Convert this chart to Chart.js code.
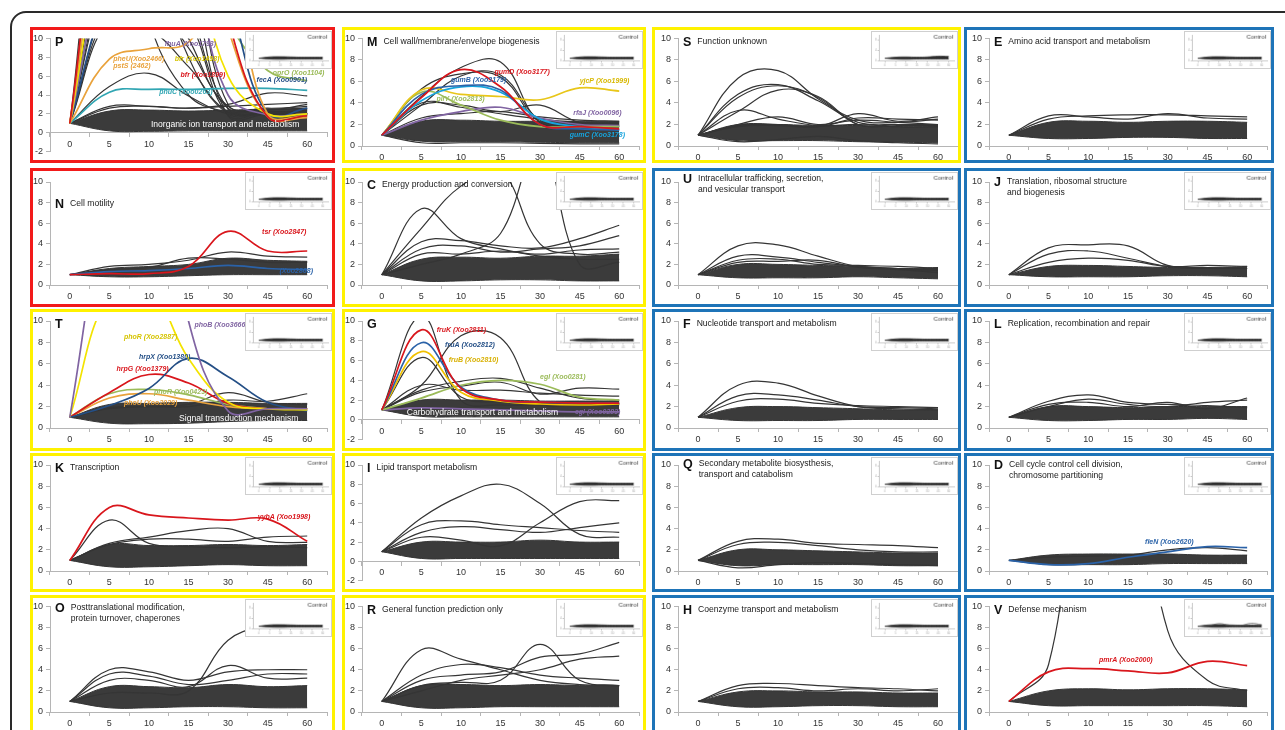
<!DOCTYPE html>
<html><head><meta charset="utf-8">
<script src="https://cdn.jsdelivr.net/npm/chart.js@4.4.1/dist/chart.umd.min.js"></script>
<style>
html,body{margin:0;padding:0;background:#fff;width:1285px;height:730px;overflow:hidden;position:relative;}
.frame{position:absolute;left:10px;top:11px;width:1300px;height:760px;border:2px solid #2a2a2a;border-radius:16px;box-sizing:border-box;}
.panel{position:absolute;border:3px solid;box-sizing:border-box;background:#fff;}
.panel canvas.main{position:absolute;left:0;top:0;}
.panel canvas.inset{position:absolute;right:0;top:1px;border:1px solid #cfcfcf;box-sizing:border-box;background:#fff;}
</style></head>
<body>
<div class="frame"></div>
<script>
const TIMES = ['0','5','10','15','30','45','60'];

// ---------- Control insets ----------
const CTRL_lo = [1.0, 0.7, 0.6, 0.7, 0.7, 0.7, 0.7];
const CTRL_hi = [1.0, 1.5, 1.6, 1.5, 1.4, 1.4, 1.4];
const CTRL_S_hi = [1.0, 1.4, 1.5, 1.4, 1.5, 1.8, 1.7];
const CTRL_V_extra = [1.0, 1.2, 2.0, 1.4, 1.3, 2.1, 1.6];

// ---------- P ----------
const P_lo = [1, 0.2, 0.15, 0.2, 0.2, 0.2, 0.2];
const P_hi = [1, 2.3, 2.4, 2.3, 2.4, 2.5, 2.5];
const P_gray = [
 [1, 33, 12, 4, 2.2, 2.0, 2.0],
 [1, 28, 20, 8, 2.0, 2.2, 2.0],
 [1, 24, 25, 14, 2.5, 2.2, 2.4],
 [1, 20, 22, 16, 1.8, 2.0, 2.0],
 [1, 18, 24, 19, 3.0, 2.6, 2.8],
 [1, 16, 18, 10, 2.6, 2.5, 2.6],
 [1, 14, 16, 12, 1.9, 2.2, 2.2],
 [1, 13, 14, 9, 2.8, 2.4, 3.0],
 [1, 12, 11, 7, 2.2, 2.0, 2.0],
 [1, 4.9, 6.3, 3.9, 2.0, 2.0, 2.0],
 [1, 2.8, 2.8, 2.6, 3.0, 4.2, 3.9],
 [1, 2.6, 2.8, 2.6, 2.8, 3.0, 3.2]
];
const P_bfr2 = [1, 30, 36, 30, 12, 1.7, 1.8];
const P_pstS = [1, 26, 32, 26, 11, 1.7, 1.6];
const P_pheU = [1, 7.8, 8.9, 9.6, 16, 2.0, 1.8];
const P_bfr1 = [1, 22, 26, 20, 6, 2.0, 2.0];
const P_fhu = [1, 19, 24, 18, 4, 1.9, 2.0];
const P_fecA = [1, 15, 20, 22, 14, 2.0, 2.6];
const P_oprO = [1, 20, 28, 24, 12, 6.6, 5.5];
const P_pnu = [1, 4.3, 4.6, 4.6, 4.7, 4.7, 4.5];

// ---------- M ----------
const M_lo = [1, 0.45, 0.4, 0.4, 0.35, 0.3, 0.3];
const M_hi = [1, 2.3, 2.4, 2.3, 2.3, 2.3, 2.3];
const M_gray = [
 [1, 4.6, 7.3, 7.8, 2.2, 1.8, 1.8],
 [1, 5.3, 6.7, 6.4, 2.2, 2.0, 2.0],
 [1, 3.8, 6.5, 6.6, 2.4, 2.0, 1.9],
 [1, 3.8, 3.8, 3.2, 3.8, 2.2, 2.2],
 [1, 4.0, 3.6, 3.0, 2.5, 2.2, 2.1],
 [1, 2.6, 3.0, 3.2, 2.7, 2.4, 2.3],
 [1, 0.3, 0.3, 0.3, 0.25, 0.2, 0.2]
];
const M_gumD = [1, 4.5, 7.1, 5.5, 2.0, 1.8, 1.6];
const M_gumB = [1, 4.8, 5.6, 5.2, 2.0, 1.6, 1.5];
const M_gumC = [1, 4.2, 5.5, 5.0, 2.5, 1.8, 1.5];
const M_yjcP = [1, 5.2, 4.8, 4.6, 4.3, 5.4, 5.1];
const M_pil = [1, 5.0, 3.8, 2.4, 1.8, 1.8, 1.8];
const M_rfa = [1, 2.4, 3.2, 3.6, 2.6, 2.0, 1.9];

// ---------- S ----------
const S_lo = [1, 0.5, 0.5, 0.5, 0.4, 0.35, 0.3];
const S_hi = [1, 2.0, 2.0, 1.9, 1.9, 1.8, 1.8];
const S_gray = [
 [1, 6.3, 7.0, 4.4, 2.4, 2.2, 2.5],
 [1, 4.8, 5.7, 4.2, 2.2, 2.0, 2.0],
 [1, 4.5, 5.6, 4.5, 2.0, 1.9, 1.9],
 [1, 3.2, 5.2, 4.6, 2.0, 2.0, 2.0],
 [1, 3.3, 2.5, 1.9, 2.0, 1.8, 1.8],
 [1, 2.0, 2.7, 2.0, 2.4, 2.2, 2.0],
 [1, 1.8, 1.9, 1.8, 3.0, 2.3, 2.7],
 [1, 1.9, 2.0, 1.8, 2.6, 2.5, 2.4],
 [1, 0.4, 0.6, 0.9, 0.5, 0.3, 0.2]
];

// ---------- E ----------
const E_lo = [1, 0.7, 0.7, 0.8, 0.8, 0.7, 0.7];
const E_hi = [1, 2.2, 2.3, 2.2, 2.3, 2.3, 2.2];
const E_gray = [
 [1, 2.8, 2.7, 2.5, 3.0, 2.6, 2.5],
 [1, 2.5, 2.8, 2.9, 2.9, 2.8, 2.7]
];

// ---------- N ----------
const N_lo = [1, 0.8, 0.8, 0.9, 1.0, 1.0, 1.0];
const N_hi = [1, 1.6, 1.8, 2.0, 2.6, 2.4, 2.3];
const N_gray = [
 [1, 1.8, 2.0, 2.4, 3.2, 2.8, 2.7],
 [1, 1.5, 1.7, 2.6, 2.5, 2.2, 2.2]
];
const N_tsr = [1, 1.1, 1.1, 1.8, 5.2, 3.3, 3.3];
const N_fli = [1, 1.3, 1.4, 1.6, 1.9, 1.6, 1.5];

// ---------- C ----------
const C_lo = [1, 0.4, 0.4, 0.5, 0.5, 0.4, 0.4];
const C_hi = [1, 2.5, 2.7, 2.6, 2.8, 2.8, 3.0];
const C_gray = [
 [1, 7.4, 4.5, 3.5, 2.8, 2.5, 2.5],
 [1, 5.5, 9.6, 11, 4.0, 3.0, 3.2],
 [1, 2.0, 3.0, 5, 14, 2.0, 2.2],
 [1, 4.2, 4.3, 3.8, 3.6, 4.5, 5.8],
 [1, 3.5, 3.8, 3.2, 3.5, 3.8, 4.8],
 [1, 3.0, 3.0, 3.3, 3.0, 3.4, 3.5]
];

// ---------- U ----------
const U_lo = [1, 0.7, 0.7, 0.7, 0.8, 0.7, 0.6];
const U_hi = [1, 2.0, 2.0, 1.9, 1.8, 1.6, 1.7];
const U_gray = [
 [1, 3.8, 3.9, 2.8, 1.8, 1.6, 1.5],
 [1, 2.8, 2.7, 2.2, 1.8, 1.6, 1.4],
 [1, 2.4, 2.5, 2.0, 1.9, 1.8, 1.6],
 [1, 2.2, 2.3, 2.4, 1.7, 1.5, 1.2]
];

// ---------- J ----------
const J_lo = [1, 0.8, 0.8, 0.8, 0.9, 0.9, 0.8];
const J_hi = [1, 1.8, 1.9, 1.8, 1.7, 1.7, 1.8];
const J_gray = [
 [1, 3.6, 3.9, 3.8, 1.9, 1.7, 1.6],
 [1, 3.0, 3.3, 2.6, 1.8, 1.6, 1.6],
 [1, 2.2, 2.6, 2.4, 1.8, 1.9, 1.8]
];

// ---------- T ----------
const T_lo = [1, 0.45, 0.4, 0.45, 0.6, 0.7, 0.7];
const T_hi = [1, 2.2, 2.3, 2.4, 2.4, 2.3, 2.3];
const T_gray = [
 [1, 1.9, 2.0, 2.2, 3.3, 2.4, 2.2],
 [1, 1.8, 2.0, 2.0, 2.6, 2.5, 3.2]
];
const T_phoB = [1, 22, 30, 10, 1.6, 1.8, 1.8];
const T_phoR = [1, 12.5, 13, 6.5, 2.4, 1.8, 1.7];
const T_hrpX = [1, 2.1, 3.7, 6.5, 4.8, 2.4, 1.6];
const T_hrpG = [1, 3.3, 5.0, 4.2, 2.3, 1.8, 1.8];
const T_phoR2 = [1, 3.2, 3.6, 3.1, 2.2, 1.8, 1.8];
const T_phoU = [1, 2.8, 3.2, 2.6, 2.0, 1.8, 1.8];

// ---------- G ----------
const G_lo = [1, 0.35, 0.3, 0.3, 0.3, 0.3, 0.3];
const G_hi = [1, 2.0, 2.0, 2.0, 1.9, 1.9, 1.9];
const G_gray = [
 [1, 10.5, 2.0, 1.5, 1.5, 1.5, 1.5],
 [1, 6.3, 2.3, 1.8, 1.6, 1.6, 1.6],
 [1, 3.5, 8.5, 8.3, 1.8, 1.6, 1.6],
 [1, 3.0, 3.9, 4.2, 3.2, 2.2, 2.0],
 [1, 2.8, 3.4, 3.8, 2.6, 3.2, 3.1],
 [1, 3.5, 3.0, 3.0, 2.7, 2.5, 2.4]
];
const G_fruK = [1, 9.1, 3.2, 2.0, 1.8, 1.7, 1.7];
const G_fruA = [1, 7.8, 3.3, 2.0, 1.8, 1.7, 1.7];
const G_fruB = [1, 6.9, 2.8, 1.9, 1.6, 1.5, 1.6];
const G_egl1 = [1, 2.2, 3.5, 4.0, 3.6, 2.3, 2.0];
const G_egl2 = [1, 1.2, 1.1, 1.0, 0.9, 0.8, 0.8];

// ---------- F ----------
const F_lo = [1, 0.7, 0.7, 0.7, 0.8, 0.8, 0.8];
const F_hi = [1, 1.9, 2.0, 1.9, 1.8, 1.7, 1.7];
const F_gray = [
 [1, 4.0, 4.2, 3.0, 2.0, 1.8, 1.7],
 [1, 3.0, 3.1, 2.6, 2.0, 1.9, 1.8],
 [1, 2.5, 2.7, 2.3, 2.1, 2.0, 1.9]
];

// ---------- L ----------
const L_lo = [1, 0.7, 0.7, 0.8, 0.8, 0.9, 0.8];
const L_hi = [1, 2.0, 2.0, 1.9, 2.0, 2.0, 2.0];
const L_gray = [
 [1, 2.5, 3.1, 2.4, 2.2, 2.1, 1.9],
 [1, 2.0, 2.7, 2.2, 2.0, 2.4, 2.6],
 [1, 2.2, 2.4, 2.0, 2.4, 1.8, 2.8]
];

// ---------- K ----------
const K_lo = [1, 0.4, 0.4, 0.5, 0.6, 0.5, 0.5];
const K_hi = [1, 2.5, 2.4, 2.4, 2.5, 2.4, 2.5];
const K_gray = [
 [1, 4.8, 2.6, 2.3, 2.2, 2.3, 2.2],
 [1, 2.6, 3.2, 3.8, 4.0, 2.8, 2.7],
 [1, 2.5, 3.0, 3.0, 2.8, 3.2, 3.3]
];
const K_yybA = [1, 6.0, 5.3, 5.0, 4.8, 4.9, 2.8];

// ---------- I ----------
const I_lo = [1, 0.3, 0.3, 0.3, 0.3, 0.3, 0.3];
const I_hi = [1, 2.0, 2.0, 2.0, 2.2, 2.0, 2.0];
const I_gray = [
 [1, 4.5, 6.8, 8.0, 6.0, 2.8, 2.5],
 [1, 2.5, 2.2, 1.6, 4.0, 6.2, 6.3],
 [1, 3.8, 4.2, 3.8, 3.5, 3.2, 3.0],
 [1, 3.0, 3.6, 3.3, 3.0, 3.5, 4.0]
];

// ---------- Q ----------
const Q_lo = [1, 0.5, 0.6, 0.6, 0.6, 0.5, 0.5];
const Q_hi = [1, 2.0, 2.0, 1.9, 1.8, 1.7, 1.7];
const Q_gray = [
 [1, 2.8, 3.0, 2.6, 2.5, 2.4, 2.2],
 [1, 2.5, 2.7, 2.4, 2.0, 1.8, 1.8],
 [1, 0.3, 0.6, 0.8, 0.7, 0.6, 0.5]
];

// ---------- D ----------
const D_lo = [1, 0.6, 0.6, 0.6, 0.7, 0.7, 0.7];
const D_hi = [1, 1.5, 1.6, 1.6, 1.6, 1.5, 1.5];
const D_gray = [
 [1, 1.3, 1.4, 1.5, 2.0, 2.2, 1.9]
];
const D_fleN = [1, 0.6, 0.7, 1.3, 1.8, 2.3, 2.2];

// ---------- O ----------
const O_lo = [1, 0.4, 0.4, 0.5, 0.5, 0.4, 0.4];
const O_hi = [1, 2.4, 2.4, 2.3, 2.6, 2.4, 2.5];
const O_gray = [
 [1, 1.8, 1.8, 2.0, 6.8, 8.2, 8.6],
 [1, 4.0, 3.8, 3.0, 3.8, 4.0, 4.0],
 [1, 3.6, 3.4, 2.6, 3.0, 3.6, 3.6],
 [1, 3.0, 3.0, 2.4, 4.4, 3.2, 3.2]
];

// ---------- R ----------
const R_lo = [1, 0.4, 0.4, 0.5, 0.5, 0.5, 0.5];
const R_hi = [1, 2.5, 2.6, 2.5, 2.6, 2.5, 2.5];
const R_gray = [
 [1, 5.9, 5.0, 4.0, 3.0, 2.6, 2.5],
 [1, 2.5, 2.8, 3.0, 6.4, 3.0, 2.5],
 [1, 3.0, 3.5, 3.8, 5.2, 5.5, 6.6],
 [1, 2.0, 3.0, 3.5, 4.0, 5.0, 5.3],
 [1, 3.5, 4.5, 4.2, 3.5, 3.2, 3.0]
];

// ---------- H ----------
const H_lo = [1, 0.5, 0.5, 0.6, 0.6, 0.5, 0.5];
const H_hi = [1, 1.9, 2.0, 1.9, 1.9, 1.8, 1.8];
const H_gray = [
 [1, 2.5, 2.7, 2.5, 2.3, 2.2, 2.0],
 [1, 2.2, 2.3, 2.0, 2.2, 2.0, 2.2]
];

// ---------- V ----------
const V_lo = [1, 0.6, 0.6, 0.6, 0.6, 0.6, 0.5];
const V_hi = [1, 2.0, 2.2, 2.1, 2.2, 2.2, 2.1];
const V_gray = [
 [1, 4.5, 30, 28, 7.7, 3.0, 2.0]
];
const V_pmrA = [1, 3.8, 4.1, 3.9, 3.7, 4.8, 4.4];

// ---------- styling / layout (not data) ----------
const FONT = "'Liberation Sans', Arial, sans-serif";
const GRAY = '#353535';
const RED = '#d9161c', ORANGE = '#e9a23b', YEL = '#f3e300', YELT = '#d6c400', PURPLE = '#8064a2',
      NAVY = '#244f86', TEAL = '#31a6b3', CYAN = '#16a3dd', GREEN = '#9bbb59', BLUE = '#2a62a8';
const BORDER = {r:'#f21a1a', y:'#fff200', b:'#1e74b8'};
const COLS = [{l:30,w:305,al:50,ar:327},{l:342,w:304,al:362,ar:639},{l:652,w:309,al:678,ar:958},{l:964,w:310,al:989,ar:1267}];
const ROWS = [{t:27,h:136,at:38,ab:146},{t:168,h:139,at:182,ab:285},{t:309,h:142,at:321,ab:428},{t:453,h:139,at:465,ab:571},{t:595,h:145,at:606,ab:712}];
const INSET_W = 87, INSET_H = 38;

const PANELS = [
 {id:'P',col:0,row:0,b:'r',ymin:-2,abNeg:155,title:[],lo:P_lo,hi:P_hi,gray:P_gray,
  band:{t:'Inorganic ion transport and metabolism',x:2.05,y:0.85},
  hl:[[P_pnu,TEAL],[P_oprO,GREEN],[P_fecA,NAVY],[P_fhu,PURPLE],[P_bfr1,YEL],[P_pheU,ORANGE],[P_pstS,ORANGE],[P_bfr2,RED]],
  labels:[{t:'pheU(Xoo2466)',c:ORANGE,x:1.1,y:7.85},{t:'pstS (2462)',c:ORANGE,x:1.1,y:7.1},{t:'fhuA (Xoo1793)',c:PURPLE,x:2.4,y:9.35},
          {t:'bfr (Xoo1498)',c:YELT,x:2.65,y:7.8},{t:'bfr (Xoo1899)',c:RED,x:2.8,y:6.1},{t:'fecA (Xoo0901)',c:NAVY,x:4.72,y:5.55},
          {t:'oprO (Xoo1104)',c:GREEN,x:5.13,y:6.3},{t:'pnuC (Xoo0263)',c:TEAL,x:2.26,y:4.3}]},
 {id:'M',col:1,row:0,b:'y',ymin:0,title:['Cell wall/membrane/envelope biogenesis'],lo:M_lo,hi:M_hi,gray:M_gray,
  hl:[[M_rfa,PURPLE],[M_pil,GREEN],[M_yjcP,'#e8c619'],[M_gumC,CYAN],[M_gumB,BLUE],[M_gumD,RED]],
  labels:[{t:'gumD (Xoo3177)',c:RED,x:2.85,y:6.9},{t:'gumB (Xoo3179)',c:BLUE,x:1.75,y:6.15},{t:'yjcP (Xoo1999)',c:'#d8b800',x:5.0,y:6.05},
          {t:'pilY (Xoo2813)',c:GREEN,x:1.38,y:4.4},{t:'rfaJ (Xoo0096)',c:PURPLE,x:4.84,y:3.1},{t:'gumC (Xoo3178)',c:CYAN,x:4.75,y:1.0}]},
 {id:'S',col:2,row:0,b:'y',ymin:0,title:['Function unknown'],lo:S_lo,hi:S_hi,gray:S_gray,ctrlHi:CTRL_S_hi},
 {id:'E',col:3,row:0,b:'b',ymin:0,title:['Amino acid transport and metabolism'],lo:E_lo,hi:E_hi,gray:E_gray},
 {id:'N',col:0,row:1,b:'r',ymin:0,title:['Cell motility'],tdy:22,lo:N_lo,hi:N_hi,gray:N_gray,
  hl:[[N_fli,BLUE],[N_tsr,RED]],
  labels:[{t:'tsr (Xoo2847)',c:RED,x:4.86,y:5.1},{t:'(Xoo2868)',c:BLUE,x:5.3,y:1.35}]},
 {id:'C',col:1,row:1,b:'y',ymin:0,title:['Energy production and conversion'],lo:C_lo,hi:C_hi,gray:C_gray},
 {id:'U',col:2,row:1,b:'b',ymin:0,title:['Intracellular trafficking, secretion,','and vesicular transport'],tdy:-3,lo:U_lo,hi:U_hi,gray:U_gray},
 {id:'J',col:3,row:1,b:'b',ymin:0,title:['Translation, ribosomal structure','and biogenesis'],tdy:0,lo:J_lo,hi:J_hi,gray:J_gray},
 {id:'T',col:0,row:2,b:'y',ymin:0,title:[],lo:T_lo,hi:T_hi,gray:T_gray,
  band:{t:'Signal transduction mechanism',x:2.76,y:0.9},
  hl:[[T_phoU,ORANGE],[T_phoR2,GREEN],[T_hrpG,RED],[T_hrpX,NAVY],[T_phoR,YEL],[T_phoB,PURPLE]],
  labels:[{t:'phoR (Xoo2887)',c:YELT,x:1.37,y:8.5},{t:'phoB (Xoo3666)',c:PURPLE,x:3.15,y:9.6},{t:'hrpX (Xoo1380)',c:NAVY,x:1.75,y:6.6},
          {t:'hrpG (Xoo1379)',c:RED,x:1.18,y:5.55},{t:'phoR (Xoo0423)',c:GREEN,x:2.13,y:3.35},{t:'phoU (Xoo2029)',c:ORANGE,x:1.37,y:2.3}]},
 {id:'G',col:1,row:2,b:'y',ymin:-2,abNeg:440,title:[],lo:G_lo,hi:G_hi,gray:G_gray,
  band:{t:'Carbohydrate transport and metabolism',x:0.63,y:0.77},
  hl:[[G_egl2,PURPLE],[G_egl1,GREEN],[G_fruB,'#f0c000'],[G_fruA,BLUE],[G_fruK,RED]],
  labels:[{t:'fruK (Xoo2811)',c:RED,x:1.39,y:9.05},{t:'fruA (Xoo2812)',c:NAVY,x:1.6,y:7.55},{t:'fruB (Xoo2810)',c:'#d8b000',x:1.69,y:6.05},
          {t:'egl (Xoo0281)',c:GREEN,x:4.0,y:4.35},{t:'egl (Xoo0283)',c:PURPLE,x:4.88,y:0.75}]},
 {id:'F',col:2,row:2,b:'b',ymin:0,title:['Nucleotide transport and metabolism'],lo:F_lo,hi:F_hi,gray:F_gray},
 {id:'L',col:3,row:2,b:'b',ymin:0,title:['Replication, recombination and repair'],lo:L_lo,hi:L_hi,gray:L_gray},
 {id:'K',col:0,row:3,b:'y',ymin:0,title:['Transcription'],lo:K_lo,hi:K_hi,gray:K_gray,
  hl:[[K_yybA,RED]],labels:[{t:'yybA (Xoo1998)',c:RED,x:4.75,y:5.1}]},
 {id:'I',col:1,row:3,b:'y',ymin:-2,abNeg:582,title:['Lipid transport metabolism'],lo:I_lo,hi:I_hi,gray:I_gray},
 {id:'Q',col:2,row:3,b:'b',ymin:0,title:['Secondary metabolite biosysthesis,','transport and catabolism'],tdy:-1,lo:Q_lo,hi:Q_hi,gray:Q_gray},
 {id:'D',col:3,row:3,b:'b',ymin:0,title:['Cell cycle control cell division,','chromosome partitioning'],tdy:0,lo:D_lo,hi:D_hi,gray:D_gray,
  hl:[[D_fleN,BLUE]],labels:[{t:'fleN (Xoo2620)',c:BLUE,x:3.43,y:2.7}]},
 {id:'O',col:0,row:4,b:'y',ymin:0,title:['Posttranslational modification,','protein turnover, chaperones'],tdy:1,lo:O_lo,hi:O_hi,gray:O_gray},
 {id:'R',col:1,row:4,b:'y',ymin:0,title:['General function prediction only'],lo:R_lo,hi:R_hi,gray:R_gray},
 {id:'H',col:2,row:4,b:'b',ymin:0,title:['Coenzyme transport and metabolism'],lo:H_lo,hi:H_hi,gray:H_gray},
 {id:'V',col:3,row:4,b:'b',ymin:0,title:['Defense mechanism'],lo:V_lo,hi:V_hi,gray:V_gray,ctrlExtra:[CTRL_V_extra],
  hl:[[V_pmrA,RED]],labels:[{t:'pmrA (Xoo2000)',c:RED,x:2.27,y:4.95}]}
];

function line(data, color, w){ return {data, borderColor:color, borderWidth:w, pointRadius:0, fill:false, tension:0.4}; }

function decor(p){
  return {id:'decor'+p.id,
    afterDatasetsDraw(chart){
      const ctx = chart.ctx, xs = chart.scales.x, ys = chart.scales.y, a = chart.chartArea;
      ctx.save();
      ctx.beginPath(); ctx.rect(a.left, a.top-20, a.right-a.left+10, a.bottom-a.top+40); ctx.clip();
      if (p.band){
        ctx.fillStyle = '#ffffff'; ctx.font = '8.6px ' + FONT; ctx.textBaseline = 'middle'; ctx.textAlign = 'left';
        ctx.fillText(p.band.t, xs.getPixelForValue(p.band.x), ys.getPixelForValue(p.band.y));
      }
      (p.labels||[]).forEach(l => {
        ctx.fillStyle = l.c; ctx.font = 'italic bold 7px ' + FONT; ctx.textBaseline = 'middle'; ctx.textAlign = 'left';
        ctx.fillText(l.t, xs.getPixelForValue(l.x), ys.getPixelForValue(l.y));
      });
      ctx.restore();
      ctx.save();
      const ly = a.top + (p.tdy === undefined ? 3 : p.tdy);
      ctx.fillStyle = '#111'; ctx.font = 'bold 12.5px ' + FONT; ctx.textBaseline = 'middle'; ctx.textAlign = 'left';
      ctx.fillText(p.id, a.left + 5, ly + 1);
      const lw = ctx.measureText(p.id).width;
      ctx.font = '8.6px ' + FONT; ctx.fillStyle = '#1a1a1a';
      p.title.forEach((t,i) => ctx.fillText(t, a.left + 5 + lw + 6, ly + i*11));
      ctx.restore();
    }};
}

const ctrlText = {id:'ctrlText', afterDraw(chart){
  const ctx = chart.ctx; ctx.save();
  ctx.fillStyle = '#333'; ctx.font = '6.2px ' + FONT; ctx.textAlign = 'right'; ctx.textBaseline = 'middle';
  ctx.fillText('Control', chart.width - 4, 5); ctx.restore();
}};

PANELS.forEach(p => {
  const C = COLS[p.col], R = ROWS[p.row];
  const div = document.createElement('div'); div.className = 'panel';
  Object.assign(div.style, {left:C.l+'px', top:R.t+'px', width:C.w+'px', height:R.h+'px', borderColor:BORDER[p.b]});
  const cw = C.w - 6, chh = R.h - 6;
  const cv = document.createElement('canvas'); cv.className = 'main';
  cv.width = cw; cv.height = chh; cv.style.width = cw+'px'; cv.style.height = chh+'px';
  const iv = document.createElement('canvas'); iv.className = 'inset';
  iv.width = INSET_W; iv.height = INSET_H; iv.style.width = INSET_W+'px'; iv.style.height = INSET_H+'px';
  div.appendChild(cv); div.appendChild(iv); document.body.appendChild(div);

  const YW = 17, XH = 14;
  const neg = p.ymin < 0;
  const padL = C.al - C.l - 3 - YW;
  const padR = (C.l + C.w - 3) - C.ar;
  const padT = R.at - R.t - 3;
  const bottomY = neg ? p.abNeg : R.ab;
  const padB = (R.t + R.h - 3) - bottomY - (neg ? 0 : XH);

  const ds = [];
  (p.hl||[]).slice().reverse().forEach(h => ds.push(line(h[0], h[1], 1.7)));
  p.gray.forEach(g => ds.push(line(g, GRAY, 1.2)));
  ds.push(line(p.lo, GRAY, 1));
  const hiDs = line(p.hi, GRAY, 1); hiDs.fill = '-1'; hiDs.backgroundColor = '#3b3b3b';
  ds.push(hiDs);

  new Chart(cv, {type:'line', data:{labels:TIMES, datasets:ds},
    options:{animation:false, responsive:false, events:[], devicePixelRatio:1,
      layout:{padding:{left:padL, right:padR, top:padT, bottom:padB}},
      plugins:{legend:{display:false}, tooltip:{enabled:false}},
      scales:{
        x:{type:'category', offset:true, position: neg ? {y:0} : 'bottom',
           grid:{display:true, drawOnChartArea:false, drawTicks:true, tickLength:4, color:'#b5b5b5', offset:true},
           border:{display:true, color:'#b5b5b5'},
           ticks:{font:{family:FONT, size:9}, color:'#333', padding:2, maxRotation:0, autoSkip:false},
           afterFit: s => { s.height = XH; }},
        y:{min:p.ymin, max:10,
           ticks:{stepSize:2, font:{family:FONT, size:9}, color:'#333', padding:3},
           grid:{drawOnChartArea:false, tickLength:4, color:'#b5b5b5'},
           border:{display:true, color:'#b5b5b5'},
           afterFit: s => { s.width = YW; }}
      }},
    plugins:[decor(p)]});

  const ids = [];
  (p.ctrlExtra||[]).forEach(e => ids.push(line(e, '#555', 0.8)));
  ids.push(line(CTRL_lo, '#2e2e2e', 0.8));
  const ih = line(p.ctrlHi || CTRL_hi, '#2e2e2e', 0.8); ih.fill = '-1'; ih.backgroundColor = '#2e2e2e';
  ids.push(ih);
  new Chart(iv, {type:'line', data:{labels:TIMES, datasets:ids},
    options:{animation:false, responsive:false, events:[], devicePixelRatio:1,
      layout:{padding:{left:2, right:3, top:3, bottom:0}},
      plugins:{legend:{display:false}, tooltip:{enabled:false}},
      scales:{
        x:{offset:true, grid:{drawOnChartArea:false, tickLength:2, color:'#c8c8c8'}, border:{color:'#c8c8c8'},
           ticks:{font:{family:FONT, size:3}, color:'#aaa', padding:1, autoSkip:false, maxRotation:0}},
        y:{min:0, max:10, ticks:{stepSize:2, font:{family:FONT, size:3}, color:'#aaa', padding:1},
           grid:{drawOnChartArea:false, tickLength:2, color:'#c8c8c8'}, border:{color:'#c8c8c8'}}
      }},
    plugins:[ctrlText]});
});
</script>
</body></html>
